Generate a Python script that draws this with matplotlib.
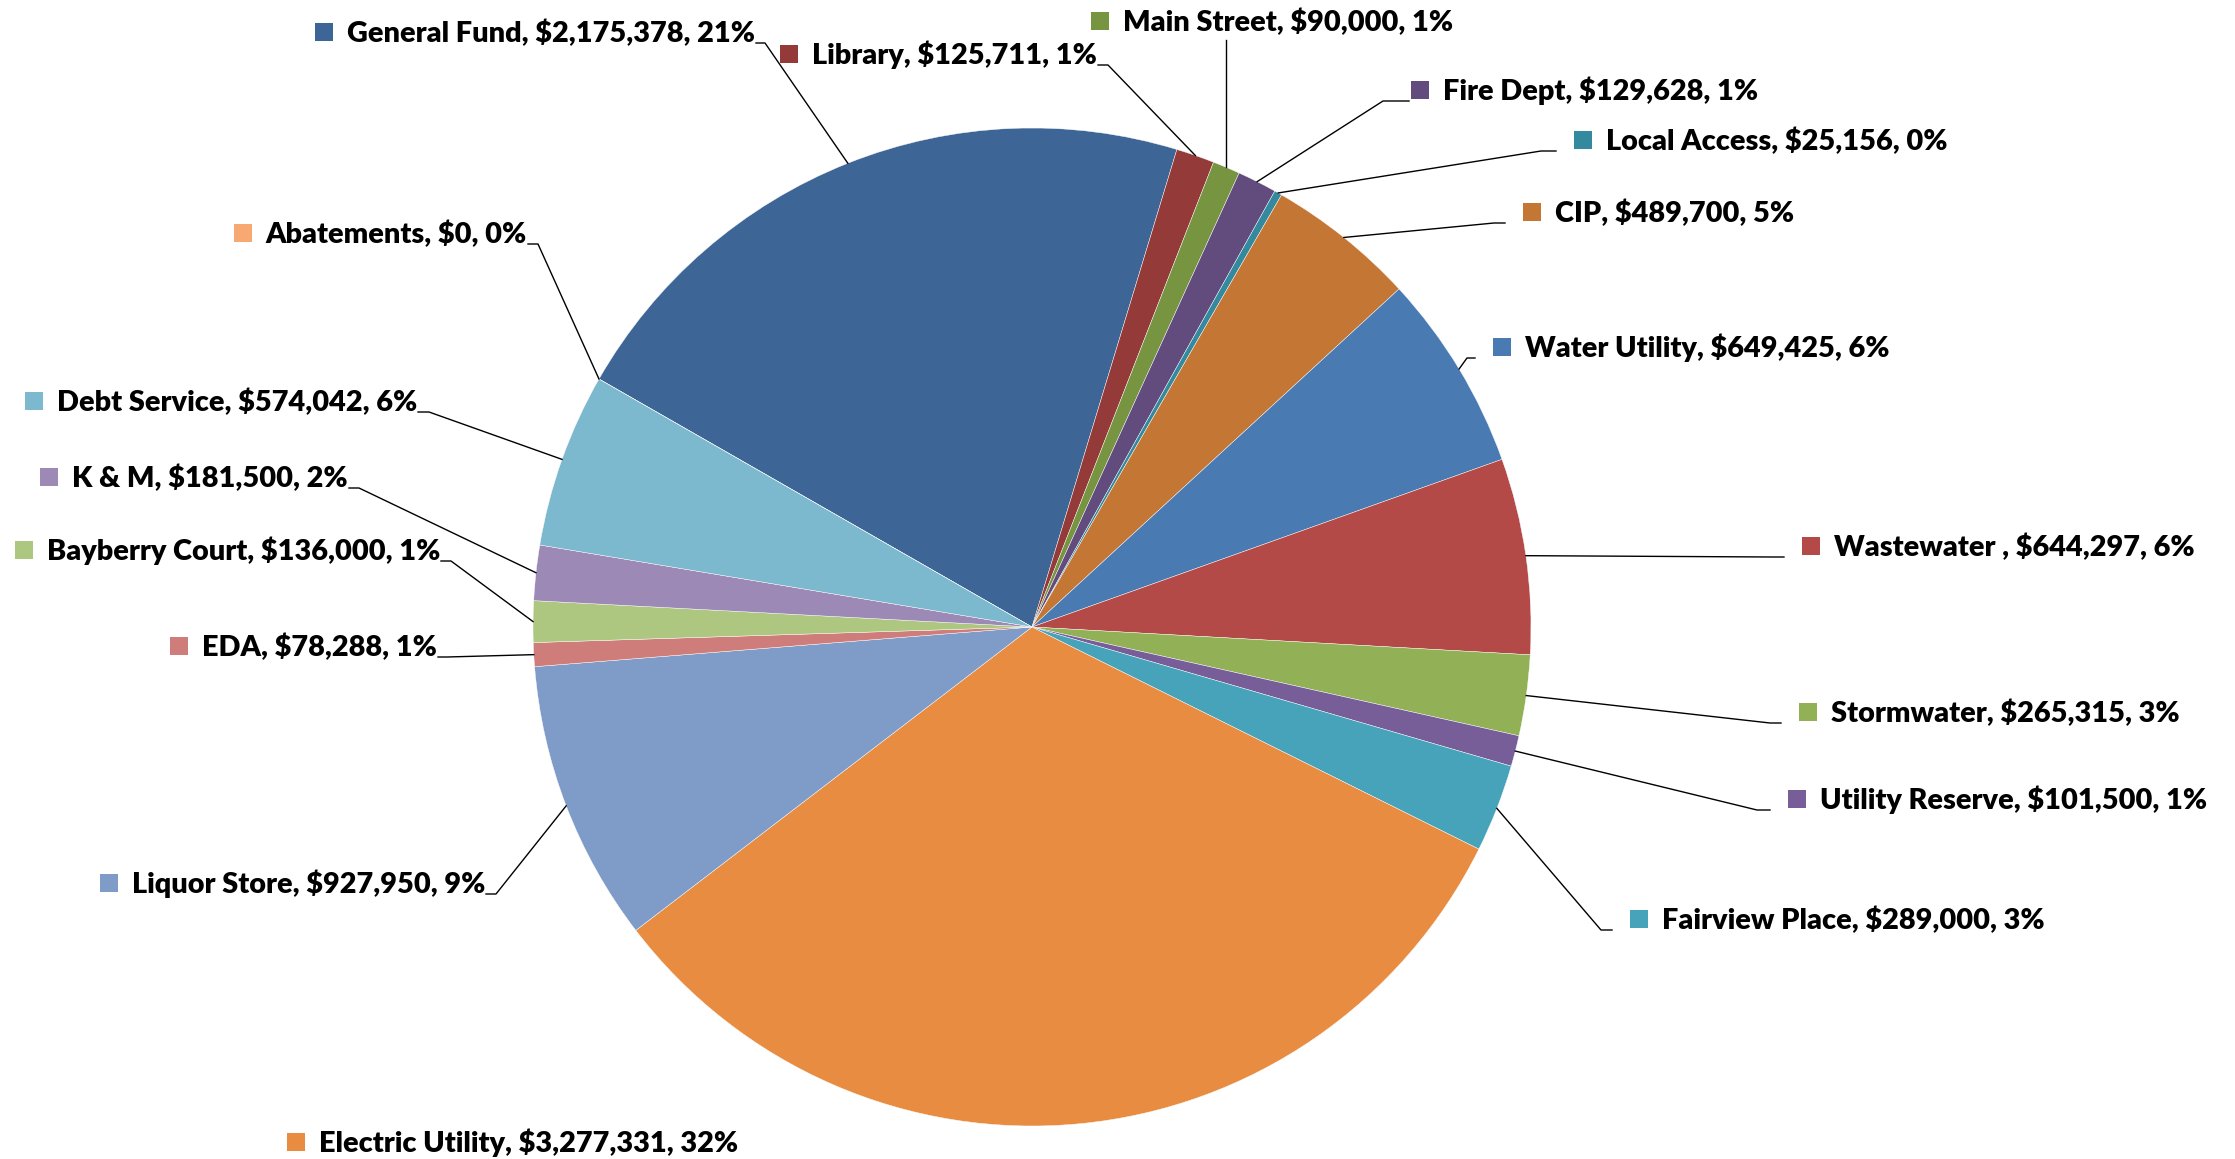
import matplotlib.pyplot as plt
from matplotlib.patches import Rectangle
import numpy as np

plt.rcParams['font.family'] = ['Lato', 'DejaVu Sans']

W, H = 2235, 1159

funds = ["General Fund", "Library", "Main Street", "Fire Dept", "Local Access", "CIP",
         "Water Utility", "Wastewater ", "Stormwater", "Utility Reserve", "Fairview Place",
         "Electric Utility", "Liquor Store", "EDA", "Bayberry Court", "K & M",
         "Debt Service", "Abatements"]
amounts = [2175378, 125711, 90000, 129628, 25156, 489700,
           649425, 644297, 265315, 101500, 289000, 3277331,
           927950, 78288, 136000, 181500, 574042, 0]
colors = ['#3D6595', '#943B39', '#779440', '#624C7E', '#338A9E', '#C47634',
          '#4A7AB2', '#B34A47', '#92B055', '#785E98', '#46A3BA', '#E88C42',
          '#7F9CC8', '#CF7D7B', '#AEC780', '#9D89B5', '#7CB8CE', '#F8A872']

# label layout in picture pixels (y down):
# kind, x anchor, cap-centre y, knee x
# 'L' = text right end at x, 'R' = line end at x (marker sits right of it),
# 'T' = marker left at x with vertical leader, 'N' = marker left at x, no leader
layout = [
    ('L', 755, 32, 765),
    ('L', 1097, 54, 1108),
    ('T', 1091, 21, None),
    ('R', 1409, 90, 1383),
    ('R', 1556, 140, 1541),
    ('R', 1505, 212, 1494),
    ('R', 1475, 347, 1467),
    ('R', 1784, 546, 1772),
    ('R', 1781, 712, 1770),
    ('R', 1770, 799, 1757),
    ('R', 1612, 919, 1601),
    ('N', 287, 1142, None),
    ('L', 485, 883, 496),
    ('L', 437, 646, 447),
    ('L', 440, 550, 451),
    ('L', 348, 477, 359),
    ('L', 417, 401, 429),
    ('L', 527, 233, 538),
]

fig = plt.figure(figsize=(W / 100, H / 100), dpi=100)
ax = fig.add_axes([0, 0, 1, 1])

cx, cy, r = 1032, H - 627, 499
wedges, _ = ax.pie(amounts, colors=colors, startangle=150.2, counterclock=False,
                   center=(cx, cy), radius=r,
                   wedgeprops=dict(edgecolor='white', linewidth=0.3))
ax.set_xlim(0, W)
ax.set_ylim(0, H)
ax.set_aspect('equal')
ax.axis('off')

total = sum(amounts)
fs = 20.8
msize = 18
gap = 14
renderer = fig.canvas.get_renderer()
inv = ax.transData.inverted()

for i, (name, amt) in enumerate(zip(funds, amounts)):
    kind, x, yc, knee = layout[i]
    pct = 100 * amt / total
    label = f"{name}, ${amt:,}, {pct:.0f}%"
    ycap = H - yc
    base = ycap - 10
    line_y = ycap - 11

    w = wedges[i]
    th = np.radians((w.theta1 + w.theta2) / 2)
    px = w.center[0] + w.r * np.cos(th)
    py = w.center[1] + w.r * np.sin(th)

    if kind == 'L':
        t = ax.text(x, base, label, ha='right', va='baseline', fontsize=fs,
                    fontweight='heavy', color='black')
        bb = t.get_window_extent(renderer).transformed(inv)
        mx = bb.x0 - gap - msize
        ax.plot([x + 1, knee, px], [line_y, line_y, py], color='black', lw=1.0)
    else:
        if kind == 'R':
            mx = x + 2 + (16 if i != 3 else 0)
            ax.plot([x, knee, px], [line_y, line_y, py], color='black', lw=1.0)
        else:
            mx = x
            if kind == 'T':
                ax.plot([px, px], [py, H - 40], color='black', lw=1.0)
        ax.text(mx + msize + gap, base, label, ha='left', va='baseline', fontsize=fs,
                fontweight='heavy', color='black')
    ax.add_patch(Rectangle((mx, ycap - msize / 2), msize, msize,
                           facecolor=colors[i], edgecolor='none'))

fig.savefig('out.png', dpi=100)
